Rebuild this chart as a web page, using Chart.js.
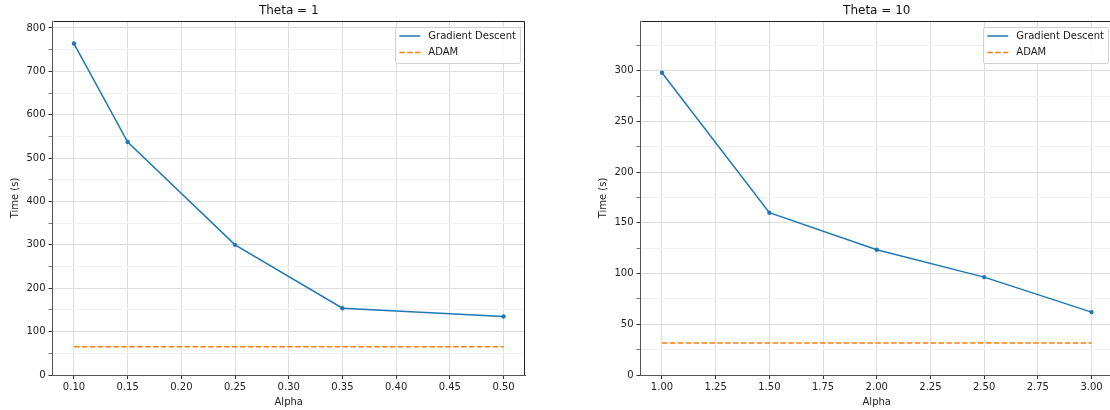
<!DOCTYPE html>
<html>
<head>
<meta charset="utf-8">
<script src="https://cdn.jsdelivr.net/npm/chart.js@4.4.1/dist/chart.umd.min.js"></script>
<style>
  html, body { margin: 0; padding: 0; background: #fff; overflow: hidden; width: 1110px; height: 410px; position: relative; }
  .box { position: absolute; top: 0; height: 410px; }
</style>
</head>
<body>
<div class="box" style="left:0;width:560px"><canvas id="chart1"></canvas></div>
<div class="box" style="left:588px;width:560px"><canvas id="chart2"></canvas></div>
<script>
// data
const alpha1 = [0.10, 0.15, 0.25, 0.35, 0.50];
const gd1 = [764, 537, 300, 154, 135];
const adam1 = 65;

const alpha2 = [1.0, 1.5, 2.0, 2.5, 3.0];
const gd2 = [298, 160, 123.5, 96.5, 62];
const adam2 = 31.6;

const xTicks1 = [0.10, 0.15, 0.20, 0.25, 0.30, 0.35, 0.40, 0.45, 0.50];
const xTicks2 = [1.00, 1.25, 1.50, 1.75, 2.00, 2.25, 2.50, 2.75, 3.00];
const yMajor1 = [0, 100, 200, 300, 400, 500, 600, 700, 800];
const yMinor1 = [50, 150, 250, 350, 450, 550, 650, 750];
const yMajor2 = [0, 50, 100, 150, 200, 250, 300];
const yMinor2 = [25, 75, 125, 175, 225, 275, 325];

const seriesNames = ["Gradient Descent", "ADAM"];
const titles = ["Theta = 1", "Theta = 10"];

Chart.defaults.font.family = "'DejaVu Sans', sans-serif";
Chart.defaults.font.size = 10;
Chart.defaults.color = '#222';

const titlePlugin = {
    id: 'plotTitle',
    afterDraw(chart, args, opts) {
        const {ctx, chartArea} = chart;
        ctx.save();
        ctx.font = "12px 'DejaVu Sans'";
        ctx.fillStyle = '#111';
        ctx.textAlign = 'center';
        ctx.textBaseline = 'middle';
        ctx.fillText(opts.text, (chartArea.left + chartArea.right) / 2, 11);
        ctx.restore();
    }
};

// top and right spines
const framePlugin = {
    id: 'frame',
    afterDraw(chart) {
        const {ctx, chartArea: a} = chart;
        ctx.save();
        ctx.strokeStyle = '#222';
        ctx.lineWidth = 1;
        ctx.beginPath();
        ctx.moveTo(Math.round(a.left) + 0.5, Math.round(a.top) + 0.5);
        ctx.lineTo(Math.round(a.right) - 0.5, Math.round(a.top) + 0.5);
        ctx.lineTo(Math.round(a.right) - 0.5, Math.round(a.bottom));
        ctx.stroke();
        ctx.restore();
    }
};

const boxLegend = {
    id: 'boxLegend',
    afterDraw(chart) {
        const {ctx, chartArea: a} = chart;
        const items = chart.data.datasets;
        ctx.save();
        ctx.font = "10px 'DejaVu Sans'";
        const maxW = Math.max(...items.map(d => ctx.measureText(d.label).width));
        const right = a.right - 5;
        const textX = right - 4 - maxW;
        const lineEnd = textX - 8;
        const lineStart = lineEnd - 21;
        const left = lineStart - 4;
        const top = a.top + 6;
        const rowH = 16.5;
        const h = 8 + rowH * items.length - 5;
        ctx.fillStyle = 'rgba(255,255,255,0.85)';
        ctx.strokeStyle = '#d0d0d0';
        ctx.lineWidth = 1;
        ctx.beginPath();
        ctx.roundRect(Math.round(left) + 0.5, Math.round(top) + 0.5, Math.round(right - left), Math.round(h), 2);
        ctx.fill();
        ctx.stroke();
        items.forEach((d, i) => {
            const y = top + 9 + i * rowH;
            ctx.strokeStyle = d.borderColor;
            ctx.lineWidth = 1.5;
            ctx.setLineDash(d.borderDash || []);
            ctx.beginPath();
            ctx.moveTo(lineStart, y);
            ctx.lineTo(lineEnd, y);
            ctx.stroke();
            ctx.setLineDash([]);
            ctx.fillStyle = '#1a1a1a';
            ctx.textBaseline = 'middle';
            ctx.fillText(d.label, textX, y);
        });
        ctx.restore();
    }
};

function makeChart(id, alpha, gd, adam, xTicks, yMajor, yMinor, xMin, xMax, yMax, title, padRight) {
    let data = {
        datasets: [{
            label: seriesNames[0],
            data: alpha.map((a, i) => ({x: a, y: gd[i]})),
            borderColor: '#1f77b4',
            backgroundColor: '#1f77b4',
            borderWidth: 1.5,
            pointRadius: 2.2,
            pointBorderWidth: 0,
            tension: 0
        }, {
            label: seriesNames[1],
            data: [{x: alpha[0], y: adam}, {x: alpha[alpha.length - 1], y: adam}],
            borderColor: '#ff7f0e',
            backgroundColor: '#ff7f0e',
            borderWidth: 1.5,
            borderDash: [5.5, 2.4],
            pointRadius: 0,
            tension: 0
        }]
    };

    let options = {
        responsive: true,
        maintainAspectRatio: false,
        animation: false,
        devicePixelRatio: 1,
        layout: { padding: { top: 21, right: padRight, bottom: 0, left: 0 } },
        plugins: {
            legend: { display: false },
            tooltip: { enabled: false },
            plotTitle: { text: title }
        },
        scales: {
            x: {
                type: 'linear',
                min: xMin,
                max: xMax,
                afterBuildTicks: s => { s.ticks = xTicks.map(v => ({value: v})); },
                afterFit: s => { s.height = 35; },
                ticks: {
                    autoSkip: false,
                    maxRotation: 0,
                    padding: 2,
                    color: '#222',
                    callback: v => Number(v).toFixed(2)
                },
                grid: { color: '#dddddd', lineWidth: 1, tickColor: '#333', tickLength: 4 },
                border: { color: '#555', width: 1 },
                title: { display: true, text: 'Alpha', color: '#222', padding: { top: 0, bottom: 2 } }
            },
            y: {
                min: 0,
                max: yMax,
                afterBuildTicks: s => {
                    s.ticks = yMajor.concat(yMinor).sort((p, q) => p - q)
                        .map(v => ({value: v, minor: !yMajor.includes(v)}));
                },
                afterFit: s => { s.width = 52.5; },
                ticks: {
                    autoSkip: false,
                    padding: 3,
                    color: '#222',
                    callback: v => yMajor.includes(v) ? String(v) : ''
                },
                grid: {
                    color: c => (c.tick && c.tick.minor) ? '#f0f0f0' : '#dddddd',
                    tickColor: c => (c.tick && c.tick.minor) ? '#777' : '#333',
                    lineWidth: 1,
                    tickLength: 4
                },
                border: { color: '#555', width: 1 },
                title: { display: true, text: 'Time (s)', color: '#222', padding: { top: 9.5, bottom: 0 } }
            }
        }
    };

    let ctx = document.getElementById(id).getContext('2d');
    return new Chart(ctx, { type: 'line', data: data, options: options, plugins: [titlePlugin, framePlugin, boxLegend] });
}

makeChart('chart1', alpha1, gd1, adam1, xTicks1, yMajor1, yMinor1, 0.08, 0.52, 816, titles[0], 35);
makeChart('chart2', alpha2, gd2, adam2, xTicks2, yMajor2, yMinor2, 0.9, 3.1, 349, titles[1], 35);
</script>
</body>
</html>
